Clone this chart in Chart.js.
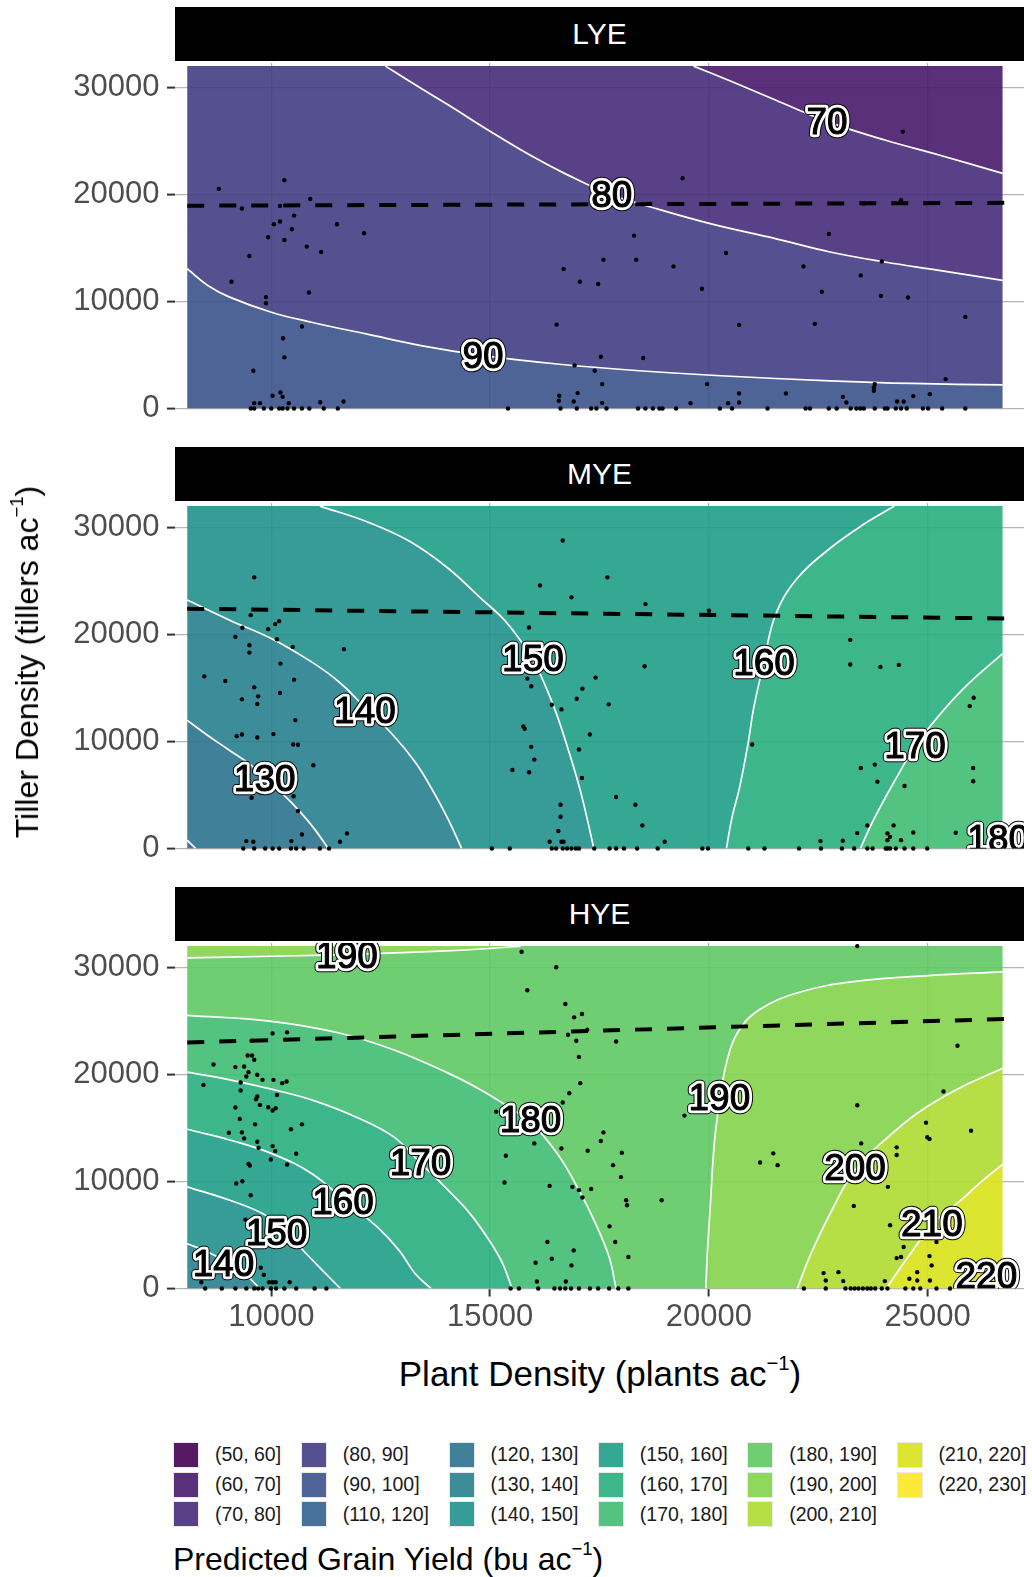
<!DOCTYPE html>
<html>
<head>
<meta charset="utf-8">
<title>Predicted grain yield</title>
<script src="https://cdn.jsdelivr.net/npm/chart.js@4.4.1/dist/chart.umd.min.js"></script>
<style>
  body { margin: 0; background: #fff; font-family: "Liberation Sans", Arial, sans-serif; }
  #page { position: relative; width: 1032px; height: 1577px; overflow: hidden; background: #fff; }
  .strip { position: absolute; left: 175px; width: 849px; height: 54px; background: #000; color: #fff;
           font-size: 30px; line-height: 54px; text-align: center; }
  canvas { position: absolute; left: 0; }
  .title { position: absolute; color: #000; white-space: nowrap; line-height: 1; }
  sup { font-size: 58%; vertical-align: 0; position: relative; top: -0.8em; }
  #legend { position: absolute; left: 173px; top: 1440px; display: flex; }
  .lcol { margin-right: 19.5px; }
  .lrow { display: flex; align-items: center; height: 29.7px; }
  .key { width: 24px; height: 24px; border: 1.5px solid #e9e9e9; box-sizing: content-box; }
  .klab { margin-left: 16px; font-size: 19.5px; color: #1a1a1a; white-space: nowrap; }
</style>
</head>
<body>
<div id="page">
  <div class="strip" style="top:7px">LYE</div>
  <div class="strip" style="top:447px">MYE</div>
  <div class="strip" style="top:887px">HYE</div>
  <canvas id="lye" width="1032" height="365" style="top:52px"></canvas>
  <canvas id="mye" width="1032" height="365" style="top:492px"></canvas>
  <canvas id="hye" width="1032" height="415" style="top:932px"></canvas>
  <div class="title" style="left:27px;top:662px;font-size:32px;transform:translate(-50%,-50%) rotate(-90deg)">Tiller Density (tillers ac<sup>−1</sup>)</div>
  <div class="title" style="left:600px;top:1373px;font-size:35px;transform:translate(-50%,-50%)">Plant Density (plants ac<sup>−1</sup>)</div>
  <div id="legend"></div>
  <div class="title" style="left:173px;top:1543px;font-size:32px">Predicted Grain Yield (bu ac<sup>−1</sup>)</div>
</div>
<script>
/* AXES */
const plantTicks = [10000, 15000, 20000, 25000];
const tillerTicks = [0, 10000, 20000, 30000];
const plantRange = [8080, 26710];   // extent of the prediction surface
const tillerRange = [0, 32000];

/* YIELD CLASSES */
const yieldBins = ["(50, 60]", "(60, 70]", "(70, 80]", "(80, 90]", "(90, 100]", "(110, 120]",
  "(120, 130]", "(130, 140]", "(140, 150]", "(150, 160]", "(160, 170]", "(170, 180]",
  "(180, 190]", "(190, 200]", "(200, 210]", "(210, 220]", "(220, 230]"];
const binColors = ["#440154", "#481a6c", "#472c7a", "#433e85", "#3b528b", "#33628d",
  "#2c728e", "#27818e", "#21918c", "#1f9f88", "#28ae80", "#3fbc73",
  "#5ec962", "#84d44b", "#addc30", "#d8e219", "#fde725"];

/* LYE - contours run with the higher yield on their left */
const lye70 = [[26710,21970],[25260,23690],[24020,25090],[22710,26810],[21520,28840],[20520,30560],[19650,32000]];
const lye80 = [[26710,11970],[25260,12910],[24020,13690],[22770,14630],[21520,15880],[20030,17280],[18530,19000],[17780,19940],[16780,21810],[15910,23690],[15010,25880],[14040,28380],[13170,30560],[12610,32000]];
const lye90 = [[26710,2200],[24640,2340],[22770,2590],[20270,3060],[18400,3530],[16530,4160],[14850,4940],[13420,5880],[12170,6970],[10920,8060],[10000,9000],[9050,10410],[8550,11500],[8080,13060]];
const lyeDash = [[8080,18950],[26860,19220]];
const lyeLabels = [[22700,26700,"70"],[17780,19900,"80"],[14840,4840,"90"]];
const lyePoints = [
  [8800,20530],[10300,21340],[10890,19590],[9330,18690],[10200,18940],[10520,18030],[10200,17470],[10060,17220],[10470,16750],[11500,17220],[12120,16380],[9930,16000],[10300,15750],[10810,15130],[11140,14630],[9500,14250],[9090,11840],[10860,10840],[9880,10410],[9880,9840],[10700,7660],[10270,6560],[10300,4780],[9590,3530],[10030,1190],[10210,1500],[10260,1090],[10400,500],[9610,500],[9740,500],[11120,590],[11650,660],
  [9530,0],[9610,0],[9830,0],[10000,0],[10180,0],[10260,0],[10370,0],[10520,0],[10700,0],[10870,0],[11200,0],[11520,0],
  [19400,21530],[18290,16160],[17590,13910],[18340,13910],[16680,13030],[17050,11840],[17470,11630],[19190,13280],[19840,11190],[20390,14530],[16520,7840],[20690,7810],[16930,4030],[17390,3530],[17530,4840],[18500,4720],[17560,2280],[19960,2280],[20690,1410],[21760,1410],[16580,1190],[16570,720],[17000,1440],[16910,660],[17560,530],[19580,500],[20440,500],[20690,560],
  [15410,0],[16610,0],[16980,0],[17310,0],[17430,0],[17660,0],[18380,0],[18550,0],[18720,0],[18870,0],[18940,0],[19250,0],[20250,0],[20530,0],[21340,0],[22210,0],[22310,0],[22740,0],[22920,0],[23240,0],[23370,0],[23460,0],[23540,0],[23790,0],[24020,0],[24080,0],[24270,0],[24390,0],[24520,0],[24890,0],[25010,0],[25330,0],[25860,0],
  [22740,16310],[23540,19160],[24390,19470],[24430,25880],[23950,13750],[22160,13280],[23470,12440],[22580,10910],[23930,10530],[24550,10380],[22420,7910],[25860,8560],[25410,2750],[23790,2280],[23770,1970],[23770,1660],[23060,1090],[24670,1160],[25050,1340],[24300,660],[24450,660],[23140,560]
];

/* MYE */
const mye120 = [[8080,790],[8170,400],[8270,0]];
const mye130 = [[8080,11970],[8550,10560],[9050,9160],[9550,7750],[9860,6500],[10300,4940],[10670,3380],[10990,1810],[11300,0]];
const mye140 = [[8080,23220],[9050,21340],[10000,19630],[10920,17440],[11550,15560],[12170,13060],[12790,10560],[13290,8060],[13670,5560],[14040,2750],[14350,0]];
const mye150 = [[11110,32000],[12170,30560],[13170,28690],[14040,26190],[14790,23380],[15290,21500],[15660,19630],[15970,17750],[16290,14940],[16530,12440],[16780,9310],[17030,5880],[17220,2750],[17370,0]];
const mye160 = [[24240,32000],[23520,30250],[22770,28060],[22020,25250],[21520,21810],[21250,17280],[21020,13060],[20900,9940],[20710,5880],[20520,2750],[20400,0]];
const mye170 = [[26710,18220],[25890,15250],[25260,12440],[24700,9470],[24270,6500],[23770,2750],[23460,0]];
const myeDash = [[8080,22410],[26860,21490]];
const myeLabels = [[9850,6400,"130"],[12140,12770,"140"],[15980,17670,"150"],[21260,17300,"160"],[24710,9490,"170"],[26610,800,"180"]];
const myePoints = [
  [9610,25340],[9530,21810],[9340,20630],[9180,19780],[9500,19000],[9500,18310],[9930,20500],[10090,20970],[10180,21250],[10130,19560],[10490,18840],[10210,17280],[11660,18630],[8470,16090],[8950,15660],[10520,15780],[9610,15060],[9700,14220],[9330,13940],[9680,13500],[10200,14530],[10550,12000],[9210,10500],[9330,10660],[9680,10380],[10050,10690],[10500,9720],[10610,9690],[10960,7780],[10610,3500],[10510,4880],[9550,4750],[10700,1310],[11730,1410],[11570,630],[10460,690],[9430,690],[9590,630],
  [9360,0],[9610,0],[9860,0],[10030,0],[10180,0],[10450,0],[10570,0],[10740,0],[11110,0],[11320,0],
  [16660,28780],[17680,25340],[16140,24590],[16860,23470],[18550,22840],[20000,22220],[15890,20660],[18530,17030],[17410,15970],[17110,14940],[16980,14000],[15850,15880],[15940,15160],[16410,13440],[16630,13000],[17710,13470],[15760,11410],[15790,11190],[17280,10660],[15940,9500],[17030,9250],[16010,8310],[15510,7340],[15890,7130],[17100,6590],[17880,4810],[18320,4090],[16610,4090],[16610,2970],[18480,2160],[16560,1630],[16360,630],[16630,630],[16680,630],[18990,630],
  [15040,0],[15450,0],[16410,0],[16510,0],[16660,0],[16760,0],[16860,0],[16960,0],[17030,0],[17380,0],[17730,0],[17880,0],[18060,0],[18360,0],[18830,0],[19850,0],[19980,0],[20900,0],[21270,0],[22060,0],[22560,0],[23040,0],[23320,0],[23620,0],[23740,0],[24040,0],[24080,0],[24140,0],[24270,0],[24470,0],[24670,0],[24990,0],
  [23230,19500],[23230,17190],[23920,16970],[24340,17160],[20990,9720],[26050,14090],[25960,13310],[23470,7530],[23790,7840],[23850,6250],[24470,5840],[26040,7530],[26040,6280],[23620,2160],[24220,2160],[23390,1440],[24080,1410],[24140,1090],[24670,1500],[25640,1470],[22550,690],[23060,720],[24390,780],[24080,780]
];

/* HYE */
const hye140 = [[8080,4190],[8550,3410],[9050,2310],[9430,1220],[9740,0]];
const hye150 = [[8080,9500],[9050,8250],[9800,7000],[10300,5440],[10800,3250],[11170,1690],[11580,0]];
const hye160 = [[8080,14880],[9050,13880],[10000,12630],[10920,10750],[11670,8250],[12420,5750],[12920,3560],[13290,1380],[13650,0]];
const hye170 = [[8080,20220],[9050,19500],[10000,18630],[10920,17630],[11920,16060],[12790,14190],[13420,11690],[14040,9190],[14540,7000],[14980,4500],[15290,2310],[15500,0]];
const hye180 = [[8080,25530],[10000,24970],[11550,23880],[12790,22310],[14040,20130],[14790,18560],[15410,17000],[15910,15590],[16530,12630],[17030,9190],[17410,6060],[17720,2940],[17880,0]];
const hye190 = [[26710,29590],[25010,29250],[23390,28720],[22150,27780],[21150,26060],[20650,23880],[20400,21060],[20250,17630],[20130,13880],[20030,7630],[19960,2940],[19930,0]];
const hye190top = [[8080,30900],[10000,31050],[12000,31250],[14000,31550],[15000,31780],[15700,32000]];
const hye200 = [[26710,20590],[25640,18560],[24760,16380],[24020,13880],[23330,11060],[22770,7000],[22330,3250],[22020,0]];
const hye210 = [[26710,11600],[26200,9900],[25760,8250],[25080,5950],[24700,3800],[24350,1800],[24050,0]];
const hye220 = [[26710,1300],[26500,600],[26300,0]];
const hyeDash = [[8080,22990],[26860,25200]];
const hyeLabels = [[11730,30980,"190"],[15925,15700,"180"],[13410,11610,"170"],[11640,8010,"160"],[10120,5130,"150"],[8910,2190,"140"],[20240,17700,"190"],[23340,11180,"200"],[25095,5960,"210"],[26340,1100,"220"]];
const hyePoints = [
  [10030,23840],[10360,23940],[9550,23160],[9460,21780],[9560,21780],[9610,21380],[8680,20940],[9180,20690],[9380,20750],[9480,20220],[9430,19810],[9680,19970],[9800,19500],[9300,19250],[10050,19500],[10250,19190],[10350,19340],[8450,19030],[9300,18500],[9680,17940],[10130,18090],[9650,17690],[9740,17160],[9930,16940],[10030,16630],[10100,16840],[9180,16910],[9280,15840],[9630,15340],[10700,15340],[10450,14880],[9030,14560],[9330,14590],[9380,14030],[9680,13720],[10030,13310],[10090,12840],[10570,12590],[9710,13160],[9990,12060],[9510,11500],[9480,11630],[10360,11590],[9200,9810],[9340,10030],[9530,8720],[9410,6440],[9120,2380],[9760,1940],[9830,1280],[10030,590],[9950,590],[10100,590],[10420,590],[8400,590],
  [8490,0],[8870,0],[9180,0],[9430,0],[9610,0],[9700,0],[9800,0],[9990,0],[10110,0],[10300,0],[10570,0],[10990,0],[11260,0],
  [15720,31470],[16510,30030],[15850,27880],[16720,26590],[17100,25660],[16920,25340],[17220,24190],[16780,23720],[16970,23160],[17880,23090],[17030,21630],[17060,19190],[16810,18250],[16660,17380],[15140,16530],[16010,13560],[16630,13090],[17590,14590],[17530,13780],[17230,12880],[18010,12690],[15360,12410],[17810,11530],[17990,10410],[15330,9910],[16360,9590],[16880,9500],[17030,9190],[17310,9310],[17110,8500],[18110,8250],[18130,7780],[18920,8250],[19440,16160],[17730,5810],[17860,4340],[16310,4340],[16910,3560],[16410,2780],[16040,2410],[16860,2160],[18160,2940],[16070,660],[16730,660],
  [15470,0],[15660,0],[16100,0],[16470,0],[16600,0],[16720,0],[16850,0],[17030,0],[17280,0],[17470,0],[17720,0],[17930,0],[18160,0],
  [23390,32000],[25680,22690],[25360,18410],[23390,17130],[25990,14750],[24960,15500],[24990,14130],[25040,13970],[23480,13560],[24290,13190],[24290,12470],[21170,11780],[21470,12630],[21570,11530],[24090,9500],[23310,7720],[24140,5910],[25200,4340],[24450,3880],[24390,2940],[25040,3030],[24290,2840],[25090,2160],[24760,1530],[22620,1440],[22960,1530],[22670,750],[23070,690],[24020,690],[24580,910],[24760,750],[25050,750],
  [22170,0],[22670,0],[23120,0],[23240,0],[23330,0],[23420,0],[23520,0],[23620,0],[23700,0],[23800,0],[23950,0],[24080,0],[24490,0],[24670,0],[24830,0],[25200,0],[25510,0]
];

/* BANDS: [contours below (forward), contours above (reversed), class] */
const lyeBands = [
  [[], [lye70], "(60, 70]"],
  [[lye70], [lye80], "(70, 80]"],
  [[lye80], [lye90], "(80, 90]"],
  [[lye90], [], "(90, 100]"]
];
const myeBands = [
  [[], [mye120], "(110, 120]"],
  [[mye120], [mye130], "(120, 130]"],
  [[mye130], [mye140], "(130, 140]"],
  [[mye140], [mye150], "(140, 150]"],
  [[mye150], [mye160], "(150, 160]"],
  [[mye160], [mye170], "(160, 170]"],
  [[mye170], [], "(170, 180]"]
];
const hyeBands = [
  [[], [hye140], "(130, 140]"],
  [[hye140], [hye150], "(140, 150]"],
  [[hye150], [hye160], "(150, 160]"],
  [[hye160], [hye170], "(160, 170]"],
  [[hye170], [hye180], "(170, 180]"],
  [[hye180], [hye190, hye190top], "(180, 190]"],
  [[hye190], [hye200], "(190, 200]"],
  [[hye190top], [], "(190, 200]"],
  [[hye200], [hye210], "(200, 210]"],
  [[hye210], [hye220], "(210, 220]"],
  [[hye220], [], "(220, 230]"]
];

Chart.defaults.font.family = '"Liberation Sans", Arial, sans-serif';

/* HELPERS */
function binFill(bin){
  const h = binColors[yieldBins.indexOf(bin)];
  const r = parseInt(h.slice(1,3),16), g = parseInt(h.slice(3,5),16), b = parseInt(h.slice(5,7),16);
  return `rgba(${r},${g},${b},0.9)`;
}

// position along the frame of the surface, 0..4 (BL, TL, TR, BR corners at 0,1,2,3)
function edgePos([x, y]){
  const [x0, x1] = plantRange, [y0, y1] = tillerRange;
  if (Math.abs(x - x0) < 1) return (y - y0) / (y1 - y0);
  if (Math.abs(y - y1) < 1) return 1 + (x - x0) / (x1 - x0);
  if (Math.abs(x - x1) < 1) return 2 + (y1 - y) / (y1 - y0);
  return 3 + (x1 - x) / (x1 - x0);
}
function ccwDist(a, b){ return ((a - b) % 4 + 4) % 4; }

function bandPolygon(lower, upper){
  const [x0, x1] = plantRange, [y0, y1] = tillerRange;
  const corners = [[x0,y0],[x0,y1],[x1,y1],[x1,y0]];
  const chunks = lower.concat(upper.map(c => c.slice().reverse()));
  const out = [];
  const seen = new Set();
  let cur = 0;
  while (!seen.has(cur)) {
    seen.add(cur);
    const ch = chunks[cur];
    // doubled end points keep the curve equal to the contour line and the frame edges straight
    out.push(ch[0], ...ch, ch[ch.length - 1]);
    const a = edgePos(ch[ch.length - 1]);
    let next = cur, best = Infinity;
    chunks.forEach((c, i) => {
      const d = ccwDist(a, edgePos(c[0]));
      if (d > 0 && d < best) { best = d; next = i; }
    });
    [0,1,2,3].map(t => ({t, d: ccwDist(a, t)}))
      .filter(o => o.d > 0 && o.d < best)
      .sort((p, q) => p.d - q.d)
      .forEach(o => out.push(corners[o.t], corners[o.t]));
    cur = next;
  }
  return out;
}

const xy = arr => arr.map(([x, y]) => ({x, y}));

/* CONTOUR LABELS */
const contourLabels = {
  id: "contourLabels",
  afterDatasetsDraw(chart, args, opts){
    const {ctx, chartArea: a, scales: {x, y}} = chart;
    ctx.save();
    ctx.beginPath();
    ctx.rect(a.left, a.top, a.right - a.left, a.bottom - a.top);
    ctx.clip();
    ctx.font = '37px "Liberation Sans", Arial, sans-serif';
    ctx.textAlign = "center";
    ctx.textBaseline = "middle";
    ctx.lineJoin = "round";
    opts.items.forEach(([vx, vy, t]) => {
      const px = x.getPixelForValue(vx), py = y.getPixelForValue(vy) + 1;
      ctx.strokeStyle = "#000"; ctx.lineWidth = 8.5; ctx.strokeText(t, px, py);
      ctx.strokeStyle = "#fff"; ctx.lineWidth = 6.5; ctx.strokeText(t, px, py);
      ctx.fillStyle = "#000"; ctx.fillText(t, px, py);
      ctx.strokeStyle = "#000"; ctx.lineWidth = 1; ctx.strokeText(t, px, py);
    });
    ctx.restore();
  }
};

/* PANEL */
function drawPanel(id, points, dash, contours, bands, labels, withX){
  const datasets = [
    {data: xy(points), pointRadius: 2.2, pointBackgroundColor: "#000", pointBorderWidth: 0, order: 0, clip: false},
    {data: xy(dash), showLine: true, borderColor: "#000", borderWidth: 4, borderDash: [17, 15], pointRadius: 0, order: 1},
    ...contours.map(c => ({data: xy(c), showLine: true, borderColor: "#fff", borderWidth: 1.7, tension: 0.4, pointRadius: 0, order: 2})),
    ...bands.map(([lo, hi, bin]) => ({data: xy(bandPolygon(lo, hi)), showLine: true, fill: "shape", tension: 0.4,
      backgroundColor: binFill(bin), borderColor: "rgba(0,0,0,0)", borderWidth: 0, pointRadius: 0, order: 3}))
  ];
  const grid = {color: "#b5b5b5", lineWidth: 1.2, tickLength: 8, tickColor: "#333", tickWidth: 2};
  new Chart(document.getElementById(id), {
    type: "scatter",
    data: {datasets},
    options: {
      responsive: false, animation: false, events: [],
      layout: {padding: {top: 11, right: 8, bottom: withX ? 0 : 8.5, left: 0}},
      plugins: {legend: {display: false}, tooltip: {enabled: false}, contourLabels: {items: labels}},
      scales: {
        x: {
          type: "linear", min: 7800, max: 27200,
          afterBuildTicks: s => { s.ticks = plantTicks.map(v => ({value: v})); },
          afterFit: s => { s.height = withX ? 58.5 : 0; s.paddingLeft = 0; s.paddingRight = 0; },
          grid: {...grid, drawTicks: withX},
          border: {display: false},
          ticks: {display: withX, color: "#4d4d4d", font: {size: 31}, padding: 2.5, maxRotation: 0, autoSkip: false, callback: v => String(v)}
        },
        y: {
          min: 0, max: 32290,
          afterBuildTicks: s => { s.ticks = tillerTicks.map(v => ({value: v})); },
          afterFit: s => { s.width = 175; s.paddingTop = 0; s.paddingBottom = 0; },
          grid: grid,
          border: {display: false},
          ticks: {color: "#4d4d4d", font: {size: 31}, padding: 7.5, autoSkip: false, callback: v => String(v)}
        }
      }
    },
    plugins: [contourLabels]
  });
}

drawPanel("lye", lyePoints, lyeDash, [lye70, lye80, lye90], lyeBands, lyeLabels, false);
drawPanel("mye", myePoints, myeDash, [mye120, mye130, mye140, mye150, mye160, mye170], myeBands, myeLabels, false);
drawPanel("hye", hyePoints, hyeDash, [hye140, hye150, hye160, hye170, hye180, hye190, hye190top, hye200, hye210, hye220], hyeBands, hyeLabels, true);

/* LEGEND (3 rows, filled by column) */
const legend = document.getElementById("legend");
for (let c = 0; c < yieldBins.length; c += 3) {
  const col = document.createElement("div");
  col.className = "lcol";
  yieldBins.slice(c, c + 3).forEach(bin => {
    col.innerHTML += `<div class="lrow"><div class="key" style="background:${binFill(bin)}"></div><div class="klab">${bin}</div></div>`;
  });
  legend.appendChild(col);
}
</script>
</body>
</html>
